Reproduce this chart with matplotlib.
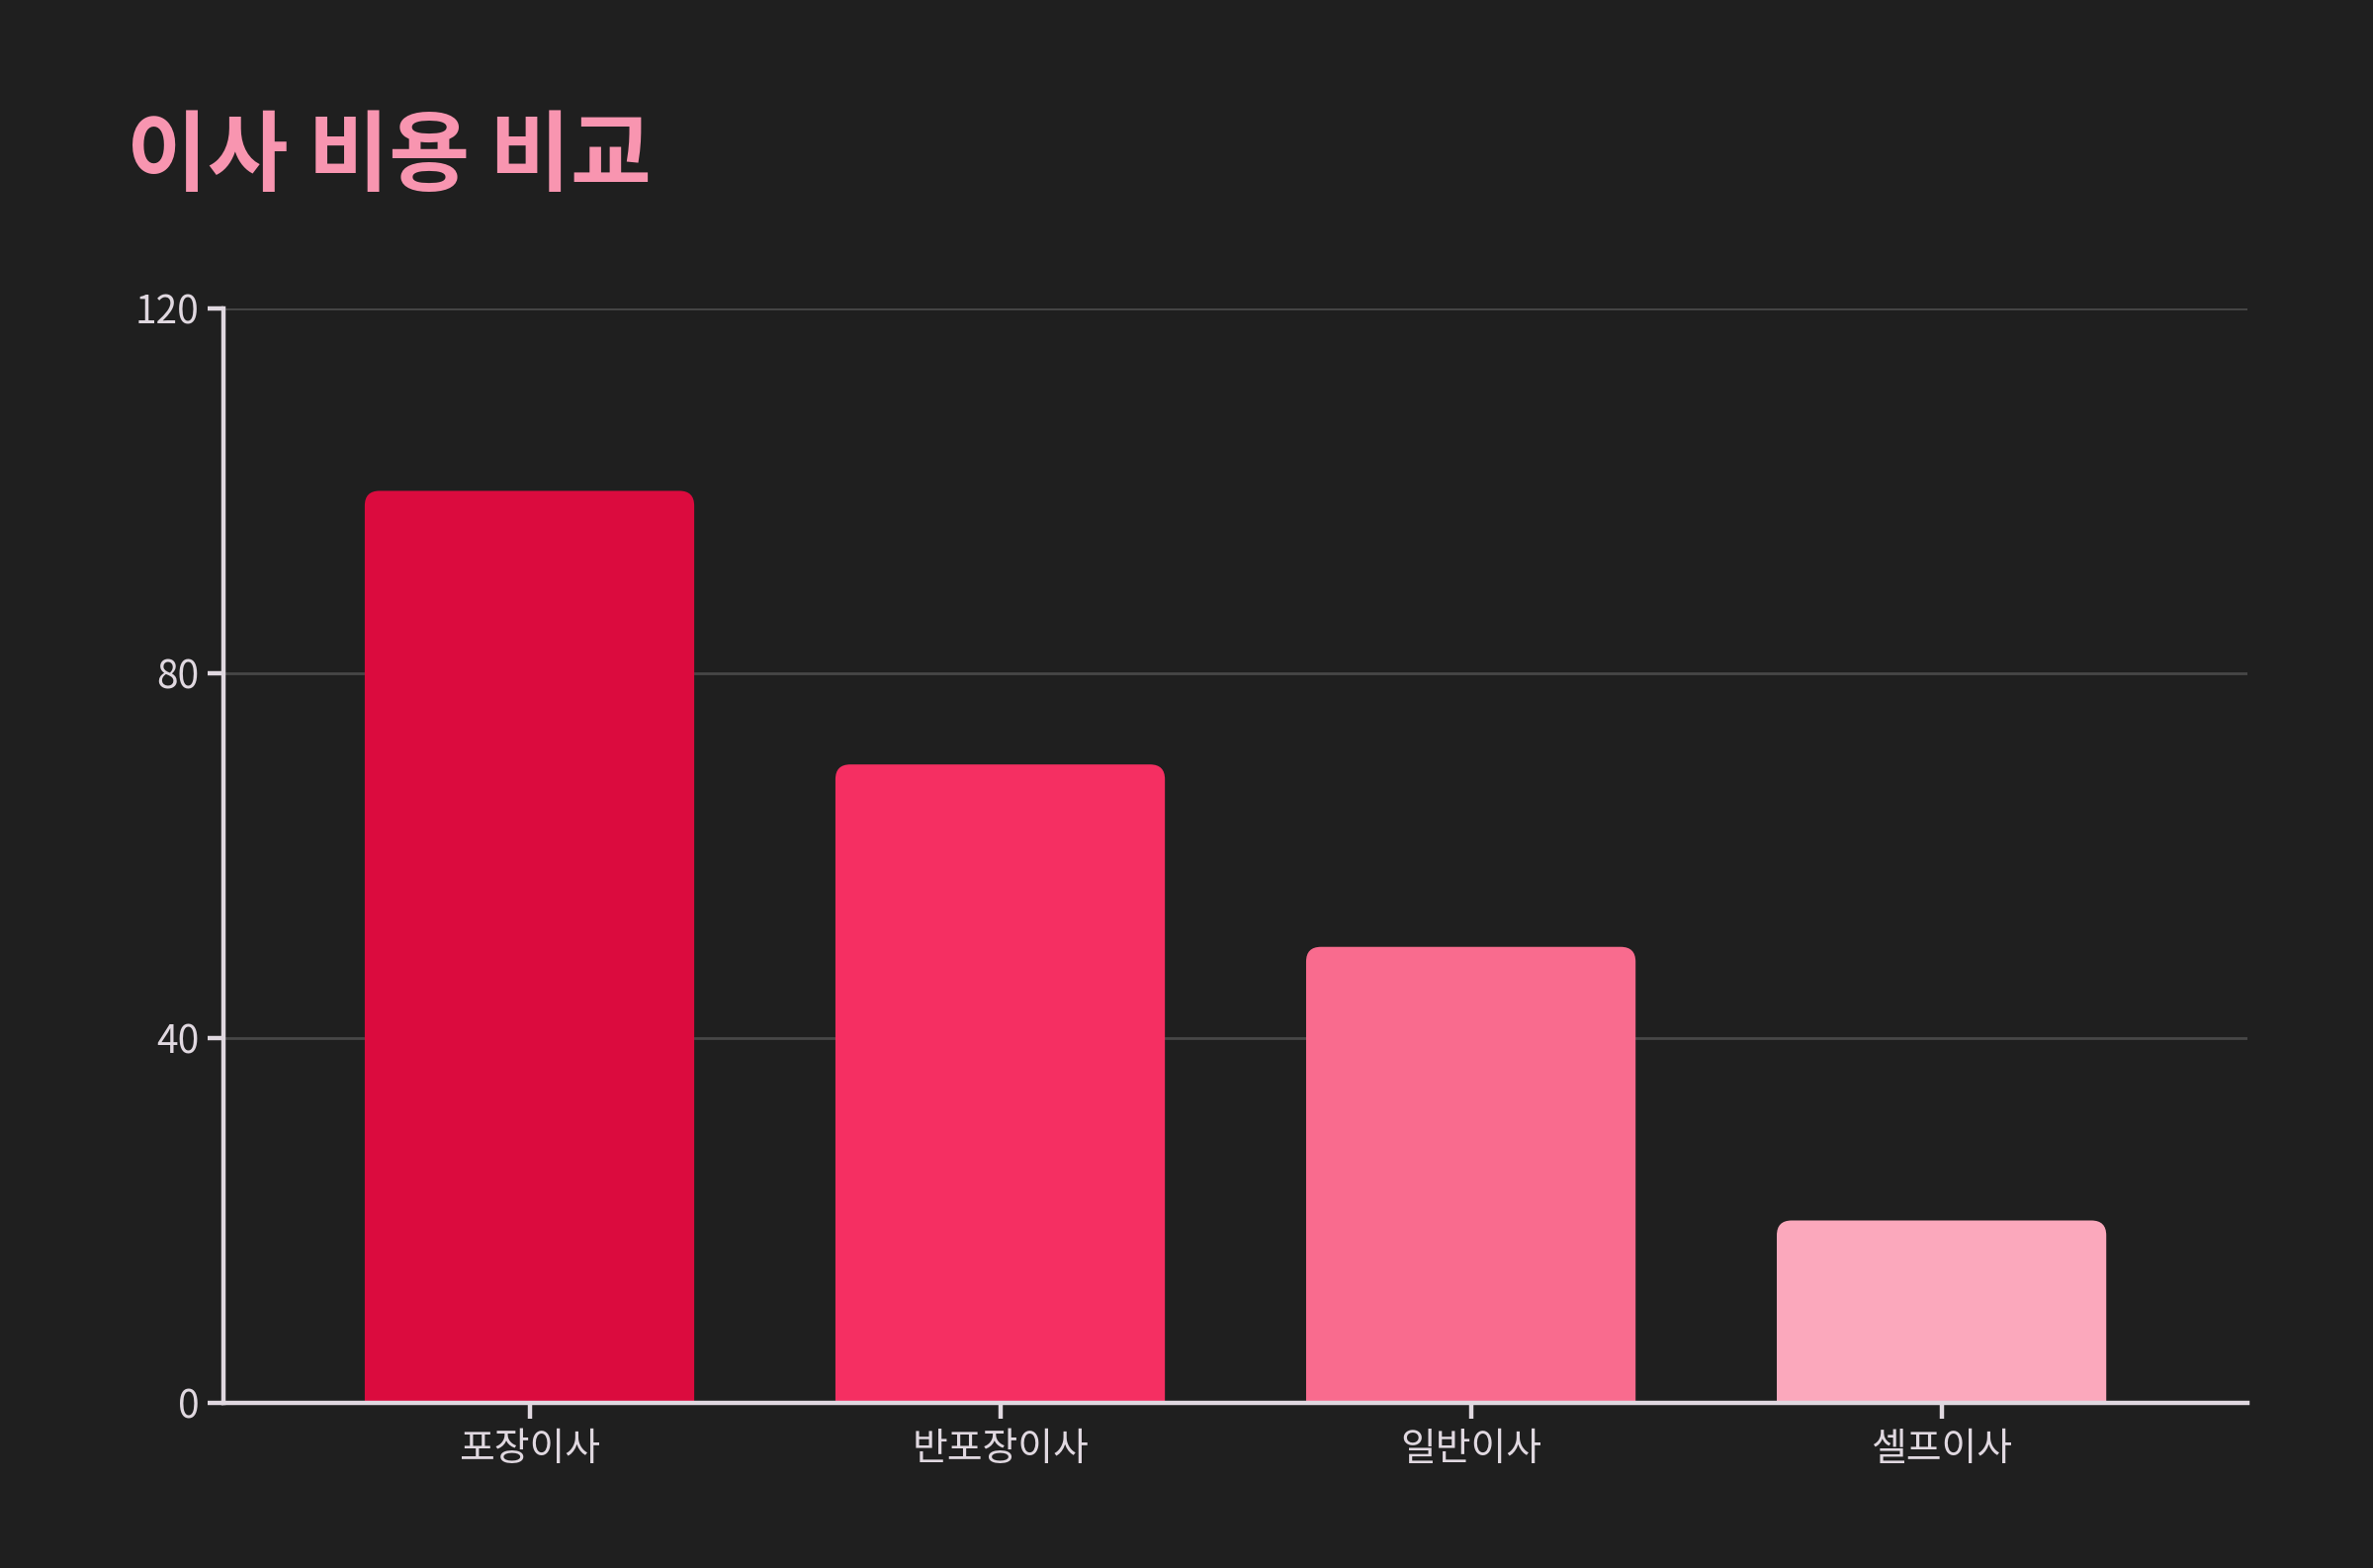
import matplotlib
matplotlib.use("Agg")
import matplotlib.pyplot as plt
from matplotlib.patches import FancyBboxPatch

# chart data
categories = ["포장이사", "반포장이사", "일반이사", "셀프이사"]
costs = [100, 70, 50, 20]
bar_colors = ["#DB0B3E", "#F52F62", "#F96B8E", "#FBA8BC"]
y_ticks = [0, 40, 80, 120]
title = "이사 비용 비교"

BG = "#1F1F1F"
FG = "#E0D8E0"
GRID = "#474747"

plt.rcParams["font.family"] = ["Noto Sans CJK KR", "DejaVu Sans"]

fig = plt.figure(figsize=(24, 15.86), dpi=100, facecolor=BG)
ax = fig.add_axes([0.0942, 0.1053, 0.9471 - 0.0942, 0.8033 - 0.1053])
ax.set_facecolor(BG)

x = range(len(categories))
bars = ax.bar(x, costs, width=0.7, color=bar_colors, zorder=3)
ax.set_xlim(-0.65, len(categories) - 1 + 0.65)
ax.set_ylim(0, 120)

# rounded top corners: swap each bar for a FancyBboxPatch
fig.canvas.draw()
bbox = ax.get_window_extent()
px_per_x = bbox.width / (ax.get_xlim()[1] - ax.get_xlim()[0])
px_per_y = bbox.height / (ax.get_ylim()[1] - ax.get_ylim()[0])
aspect = px_per_x / px_per_y
radius_px = 15
r = radius_px / px_per_x
for rect in bars:
    x0, w, h = rect.get_x(), rect.get_width(), rect.get_height()
    extra = r * aspect
    patch = FancyBboxPatch((x0, -extra), w, h + extra,
                           boxstyle=f"round,pad=0,rounding_size={r}",
                           mutation_aspect=aspect,
                           facecolor=rect.get_facecolor(), edgecolor="none",
                           zorder=3)
    ax.add_patch(patch)
    rect.set_visible(False)

ax.set_xticks(list(x))
ax.set_xticklabels(categories)
ax.set_yticks(y_ticks)
ax.tick_params(axis="both", colors=FG, labelcolor=FG, labelsize=28,
               length=11.5, width=3.2)
ax.tick_params(axis="y", pad=6)
ax.tick_params(axis="x", pad=8)
for lbl in ax.get_xticklabels() + ax.get_yticklabels():
    lbl.set_fontweight("light")

ax.grid(axis="y", color=GRID, linewidth=2, zorder=0)
ax.set_axisbelow(True)
for side in ["top", "right"]:
    ax.spines[side].set_visible(False)
for side in ["left", "bottom"]:
    ax.spines[side].set_color(FG)
    ax.spines[side].set_linewidth(3.2)
    ax.spines[side].set_zorder(4)

fig.text(128 / 2400, 1 - 160 / 1586, title, color="#F895B0", fontsize=64,
         fontweight="black", va="center", ha="left")

fig.savefig("out.png", dpi=100, facecolor=BG)
